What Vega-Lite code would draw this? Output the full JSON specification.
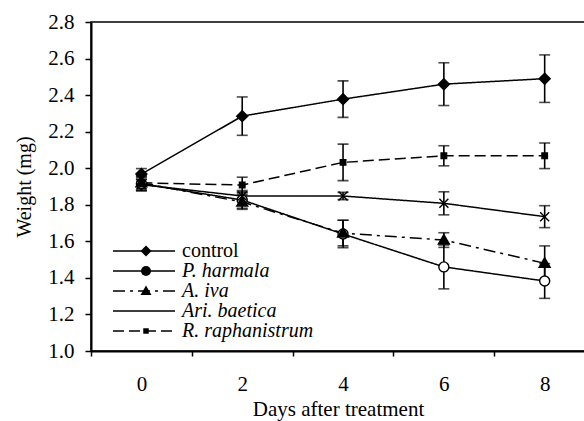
{
  "$schema": "https://vega.github.io/schema/vega-lite/v6.json",
  "width": 494,
  "height": 329,
  "autosize": {"type": "none"},
  "padding": {"left": 91, "top": 22, "right": 0, "bottom": 70},
  "background": "white",
  "config": {
    "font": "Liberation Serif",
    "view": {"stroke": "black", "strokeWidth": 1.5},
    "legend": {"labelFont": "Liberation Serif"},
    "axis": {
      "grid": false,
      "domainColor": "black",
      "domainWidth": 2,
      "tickColor": "black",
      "tickWidth": 1.5,
      "labelColor": "black",
      "titleColor": "black",
      "labelFont": "Liberation Serif",
      "titleFont": "Liberation Serif",
      "labelFontSize": 21,
      "titleFontSize": 21,
      "titleFontWeight": "normal"
    }
  },
  "data": {
    "values": [
      {"day": 0, "series": "control", "weight": 1.968, "se": 0.03},
      {"day": 2, "series": "control", "weight": 2.285, "se": 0.105},
      {"day": 4, "series": "control", "weight": 2.378, "se": 0.1},
      {"day": 6, "series": "control", "weight": 2.46, "se": 0.117},
      {"day": 8, "series": "control", "weight": 2.49, "se": 0.13},
      {"day": 0, "series": "P. harmala", "weight": 1.915, "se": 0.04},
      {"day": 2, "series": "P. harmala", "weight": 1.826, "se": 0.045},
      {"day": 4, "series": "P. harmala", "weight": 1.64, "se": 0.075},
      {"day": 6, "series": "P. harmala", "weight": 1.46, "se": 0.12},
      {"day": 8, "series": "P. harmala", "weight": 1.383, "se": 0.095},
      {"day": 0, "series": "A. iva", "weight": 1.92, "se": 0.04},
      {"day": 2, "series": "A. iva", "weight": 1.815, "se": 0.04},
      {"day": 4, "series": "A. iva", "weight": 1.645, "se": 0.07},
      {"day": 6, "series": "A. iva", "weight": 1.607, "se": 0.04},
      {"day": 8, "series": "A. iva", "weight": 1.48, "se": 0.095},
      {"day": 0, "series": "Ari. baetica", "weight": 1.91, "se": 0.03},
      {"day": 2, "series": "Ari. baetica", "weight": 1.848, "se": 0.03},
      {"day": 4, "series": "Ari. baetica", "weight": 1.848, "se": 0.02},
      {"day": 6, "series": "Ari. baetica", "weight": 1.808, "se": 0.063},
      {"day": 8, "series": "Ari. baetica", "weight": 1.735, "se": 0.06},
      {"day": 0, "series": "R. raphanistrum", "weight": 1.92, "se": 0.03},
      {"day": 2, "series": "R. raphanistrum", "weight": 1.908, "se": 0.043},
      {"day": 4, "series": "R. raphanistrum", "weight": 2.032, "se": 0.1},
      {"day": 6, "series": "R. raphanistrum", "weight": 2.068, "se": 0.055},
      {"day": 8, "series": "R. raphanistrum", "weight": 2.068, "se": 0.07}
    ]
  },
  "encoding": {
    "x": {
      "field": "day",
      "type": "quantitative",
      "scale": {"domain": [-1, 8.8], "nice": false, "zero": false},
      "axis": {
        "values": [-1, 0, 1, 2, 3, 4, 5, 6, 7, 8],
        "labelExpr": "datum.value % 2 === 0 ? datum.label : ''",
        "tickOpacity": {"condition": {"test": "datum.value % 2 === 0", "value": 0}, "value": 1},
        "tickSize": 5,
        "labelPadding": 17,
        "labelOverlap": false,
        "labelFlush": false,
        "title": "Days after treatment",
        "titlePadding": 4
      }
    },
    "y": {
      "field": "weight",
      "type": "quantitative",
      "scale": {"domain": [1.0, 2.8], "nice": false, "zero": false},
      "axis": {
        "values": [1.0, 1.2, 1.4, 1.6, 1.8, 2.0, 2.2, 2.4, 2.6, 2.8],
        "format": ".1f",
        "tickSize": 6,
        "labelPadding": 11,
        "labelOverlap": false,
        "labelFlush": false,
        "title": "Weight (mg)",
        "titleFontSize": 20,
        "titlePadding": 13
      }
    }
  },
  "layer": [
    {
      "mark": {
        "type": "errorbar",
        "color": "black",
        "ticks": {"size": 11, "thickness": 1.6, "color": "black"},
        "rule": {"strokeWidth": 1.6, "color": "black"}
      },
      "encoding": {
        "yError": {"field": "se"},
        "detail": {"field": "series", "type": "nominal"}
      }
    },
    {
      "mark": {"type": "line", "color": "black", "strokeWidth": 1.5},
      "encoding": {
        "strokeDash": {
          "field": "series",
          "type": "nominal",
          "scale": {
            "domain": ["control", "P. harmala", "A. iva", "Ari. baetica", "R. raphanistrum"],
            "range": [[1, 0], [1, 0], [12, 5, 3, 5], [1, 0], [11, 5]]
          },
          "legend": {
            "orient": "none",
            "legendX": 43,
            "legendY": 219,
            "title": null,
            "padding": 0,
            "symbolType": "M-6.2,0L6.2,0",
            "symbolSize": 100,
            "symbolStrokeColor": "black",
            "symbolStrokeWidth": 1.5,
            "labelFont": "Liberation Serif",
            "labelFontSize": 20,
            "labelColor": "black",
            "labelOffset": 28,
            "rowPadding": -2,
            "encode": {
              "labels": {
                "update": {
                  "fontStyle": {"signal": "datum.label === 'control' ? 'normal' : 'italic'"}
                }
              }
            }
          }
        }
      }
    },
    {
      "mark": {"type": "point", "filled": true, "stroke": "black", "strokeWidth": 1.4, "opacity": 1, "size": 100},
      "encoding": {
        "shape": {
          "field": "series",
          "type": "nominal",
          "sort": ["control", "P. harmala", "A. iva", "Ari. baetica", "R. raphanistrum"],
          "scale": {
            "range": [
              "M-1.1,0L0,-1.1L1.1,0L0,1.1Z",
              "circle",
              "M0,-1.1L1.1,0.8L-1.1,0.8Z",
              "M-0.9,-0.9L0.9,0.9M-0.9,0.9L0.9,-0.9",
              "M-0.55,-0.55L0.55,-0.55L0.55,0.55L-0.55,0.55Z"
            ]
          },
          "legend": {
            "orient": "none",
            "legendX": 45,
            "legendY": 219,
            "title": null,
            "padding": 0,
            "symbolSize": 100,
            "symbolStrokeColor": "black",
            "symbolStrokeWidth": 1.4,
            "labelFont": "Liberation Serif",
            "labelFontSize": 20,
            "labelExpr": "' '",
            "labelOpacity": 0,
            "rowPadding": -2
          }
        },
        "fill": {
          "field": "series",
          "type": "nominal",
          "sort": ["control", "P. harmala", "A. iva", "Ari. baetica", "R. raphanistrum"],
          "scale": {"range": ["black", "white", "black", "white", "black"]}
        }
      }
    }
  ]
}
